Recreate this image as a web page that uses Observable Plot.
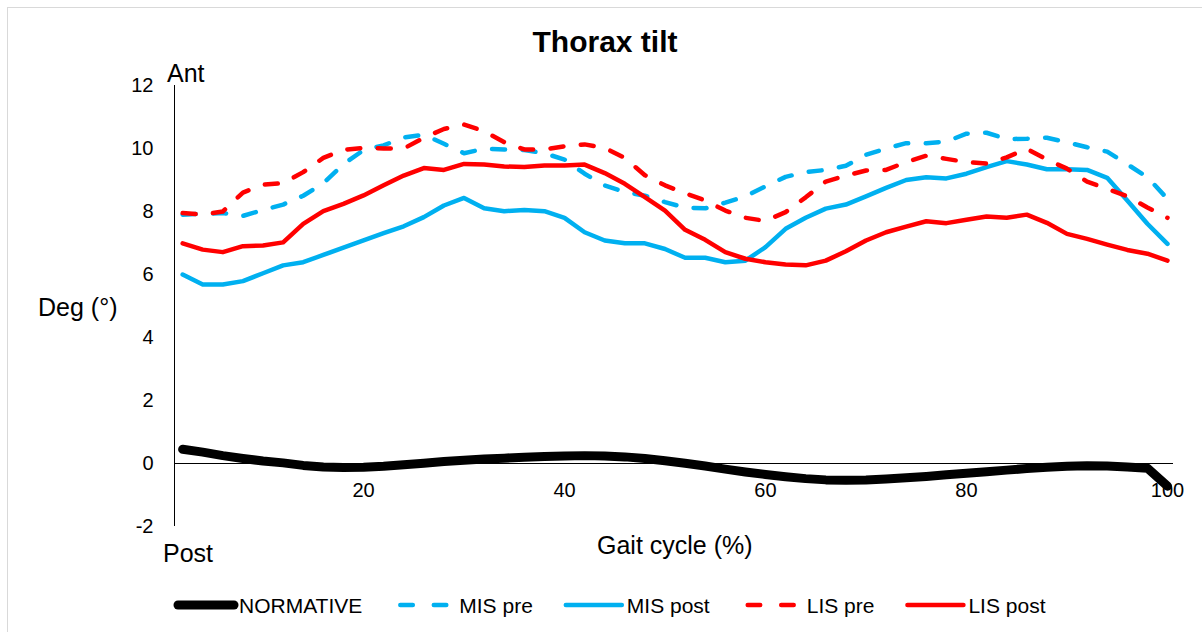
<!DOCTYPE html>
<html>
<head>
<meta charset="utf-8">
<script src="https://cdn.jsdelivr.net/npm/d3@7"></script>
<script src="https://cdn.jsdelivr.net/npm/@observablehq/plot@0.6"></script>
<style>
html, body { margin: 0; padding: 0; background: #fff; overflow: hidden; width: 1202px; height: 632px; }
#frame { position: absolute; left: 7px; top: 7px; width: 1300px; height: 800px; border-left: 1px solid #d9d9d9; border-top: 1px solid #d9d9d9; }
#chart { position: absolute; left: 0; top: 0; }
#overlay { position: absolute; left: 0; top: 0; }
</style>
</head>
<body>
<div id="frame"></div>
<div id="chart"></div>
<svg id="overlay" width="1202" height="632"></svg>
<script>
// ---------- data ----------
const title = "Thorax tilt";
const xLabel = "Gait cycle (%)";
const yLabel = "Deg (°)";
const yTopLabel = "Ant";
const yBottomLabel = "Post";

const gaitCycle = [2, 4, 6, 8, 10, 12, 14, 16, 18, 20, 22, 24, 26, 28, 30, 32, 34, 36, 38, 40,
  42, 44, 46, 48, 50, 52, 54, 56, 58, 60, 62, 64, 66, 68, 70, 72, 74, 76, 78, 80,
  82, 84, 86, 88, 90, 92, 94, 96, 98, 100];

const normative = [0.45, 0.36, 0.25, 0.16, 0.08, 0.02, -0.06, -0.11, -0.13, -0.12,
  -0.09, -0.04, 0.01, 0.06, 0.10, 0.14, 0.17, 0.20, 0.22, 0.24,
  0.25, 0.24, 0.21, 0.16, 0.09, 0.01, -0.08, -0.18, -0.27, -0.35,
  -0.42, -0.48, -0.52, -0.53, -0.52, -0.49, -0.45, -0.41, -0.36, -0.31,
  -0.26, -0.21, -0.16, -0.12, -0.09, -0.07, -0.08, -0.11, -0.15, -0.72];

const misPre = [7.90, 7.93, 7.95, 7.86, 8.05, 8.22, 8.50, 8.90, 9.50, 9.95,
  10.10, 10.35, 10.44, 10.15, 9.85, 9.99, 9.97, 9.95, 9.85, 9.65,
  9.20, 8.83, 8.62, 8.50, 8.30, 8.12, 8.10, 8.28, 8.48, 8.80,
  9.10, 9.25, 9.32, 9.45, 9.80, 10.00, 10.17, 10.17, 10.22, 10.47,
  10.50, 10.30, 10.31, 10.34, 10.20, 10.04, 9.90, 9.50, 9.09, 8.40];

const misPost = [6.00, 5.68, 5.68, 5.79, 6.04, 6.29, 6.39, 6.62, 6.85, 7.08,
  7.31, 7.53, 7.82, 8.19, 8.43, 8.10, 8.01, 8.05, 8.01, 7.80,
  7.34, 7.08, 6.99, 6.99, 6.81, 6.53, 6.53, 6.39, 6.44, 6.87,
  7.45, 7.80, 8.09, 8.22, 8.48, 8.75, 9.00, 9.09, 9.05, 9.20,
  9.41, 9.60, 9.49, 9.34, 9.34, 9.32, 9.07, 8.35, 7.61, 6.97];

const lisPre = [7.95, 7.90, 8.00, 8.60, 8.85, 8.90, 9.25, 9.70, 9.96, 10.02,
  10.00, 10.00, 10.34, 10.62, 10.76, 10.55, 10.20, 9.97, 9.97, 10.07,
  10.13, 10.02, 9.70, 9.15, 8.83, 8.58, 8.35, 8.03, 7.80, 7.70,
  7.98, 8.45, 8.95, 9.14, 9.30, 9.32, 9.57, 9.77, 9.67, 9.57,
  9.52, 9.72, 9.99, 9.65, 9.36, 8.95, 8.72, 8.48, 8.13, 7.80];

const lisPost = [6.99, 6.79, 6.71, 6.90, 6.92, 7.02, 7.61, 8.01, 8.24, 8.51,
  8.83, 9.14, 9.38, 9.32, 9.51, 9.49, 9.43, 9.41, 9.46, 9.46,
  9.49, 9.22, 8.88, 8.46, 8.03, 7.42, 7.10, 6.71, 6.50, 6.39,
  6.32, 6.29, 6.44, 6.74, 7.08, 7.34, 7.52, 7.69, 7.63, 7.74,
  7.84, 7.80, 7.90, 7.64, 7.29, 7.13, 6.95, 6.78, 6.66, 6.44];

const seriesNames = ["NORMATIVE", "MIS pre", "MIS post", "LIS pre", "LIS post"];
const seriesValues = [normative, misPre, misPost, lisPre, lisPost];

const xTicks = [20, 40, 60, 80, 100];
const yTicks = [-2, 0, 2, 4, 6, 8, 10, 12];

// ---------- styles ----------
const FONT = '"Liberation Sans", Arial, Helvetica, sans-serif';
const styles = {
  "NORMATIVE": {stroke: "#000000", width: 9, dash: null},
  "MIS pre":   {stroke: "#00B0F0", width: 4.5, dash: "13,17.5"},
  "MIS post":  {stroke: "#00B0F0", width: 4.5, dash: null},
  "LIS pre":   {stroke: "#FF0000", width: 4.5, dash: "13,17.5"},
  "LIS post":  {stroke: "#FF0000", width: 4.5, dash: null}
};

const rows = [];
seriesNames.forEach((name, s) => {
  seriesValues[s].forEach((v, i) => rows.push({series: name, x: gaitCycle[i], y: v}));
});

const xDomain = [1.19, 100.6];
const yDomain = [-2, 12];

const lineMarks = seriesNames.map(name => {
  const st = styles[name];
  return Plot.line(rows.filter(d => d.series === name), {
    x: "x", y: "y",
    stroke: st.stroke,
    strokeWidth: st.width,
    strokeDasharray: st.dash || undefined,
    strokeLinecap: "round",
    strokeLinejoin: "round"
  });
});

const chart = Plot.plot({
  width: 1202,
  height: 632,
  marginLeft: 174,
  marginRight: 29,
  marginTop: 85,
  marginBottom: 106,
  style: {fontFamily: FONT, fontSize: "20px", color: "#000", background: "transparent", overflow: "visible"},
  x: {domain: xDomain, axis: null},
  y: {domain: yDomain, ticks: yTicks, tickSize: 0, tickPadding: 21, label: null, tickFormat: d => String(d)},
  marks: [
    Plot.text(xTicks, {x: d => d, y: () => 0, dy: 27, text: d => String(d), fontSize: 20, fill: "#000"}),
    Plot.ruleY([0], {stroke: "#000", strokeWidth: 1}),
    Plot.ruleX([xDomain[0]], {stroke: "#000", strokeWidth: 1}),
    ...lineMarks
  ]
});
document.getElementById("chart").appendChild(chart);

// ---------- titles & legend ----------
const ov = d3.select("#overlay").style("font-family", FONT);
ov.append("text").attr("x", 605).attr("y", 52).attr("text-anchor", "middle")
  .attr("font-size", 30).attr("font-weight", "bold").attr("fill", "#000").text(title);
ov.append("text").attr("x", 167).attr("y", 82).attr("font-size", 25).attr("fill", "#000").text(yTopLabel);
ov.append("text").attr("x", 163).attr("y", 562).attr("font-size", 25).attr("fill", "#000").text(yBottomLabel);
ov.append("text").attr("x", 38).attr("y", 316).attr("font-size", 25).attr("fill", "#000").text(yLabel);
ov.append("text").attr("x", 597).attr("y", 554).attr("font-size", 25).attr("fill", "#000").text(xLabel);

let lx = 176;
const ly = 605;
seriesNames.forEach(name => {
  const st = styles[name];
  const g = ov.append("g");
  if (st.dash) {
    g.append("line").attr("x1", lx + 7).attr("x2", lx + 53).attr("y1", ly).attr("y2", ly)
      .attr("stroke", st.stroke).attr("stroke-width", st.width)
      .attr("stroke-dasharray", "12.5,21").attr("stroke-linecap", "round");
  } else {
    g.append("line").attr("x1", lx + 2).attr("x2", lx + 58).attr("y1", ly).attr("y2", ly)
      .attr("stroke", st.stroke).attr("stroke-width", st.width).attr("stroke-linecap", "round");
  }
  const tx = lx + 60 + (st.dash ? 6 : 3);
  const t = g.append("text").attr("x", tx).attr("y", ly + 8).attr("font-size", 21).attr("fill", "#000").text(name);
  const w = t.node().getComputedTextLength();
  lx = tx + w + 31;
});
</script>
</body>
</html>
